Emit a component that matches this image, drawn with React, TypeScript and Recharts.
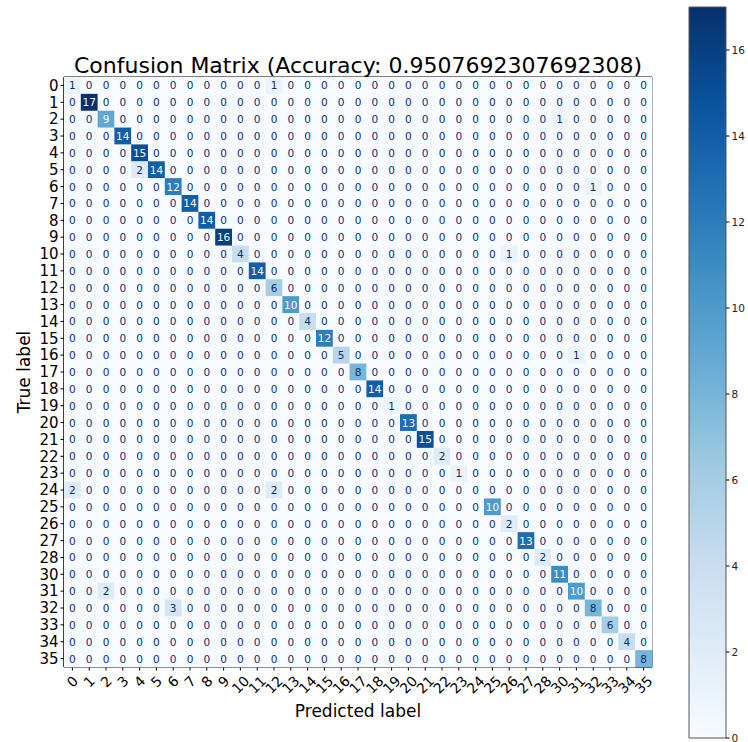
import { ScatterChart, Scatter, XAxis, YAxis, ReferenceArea, BarChart, Bar } from "recharts";

const LABELS = [
  "0", "1", "2", "3", "4", "5", "6", "7", "8", "9", "10", "11", "12", "13", "14", "15", "16", "17",
  "18", "19", "20", "21", "22", "23", "24", "25", "26", "27", "28", "30", "31", "32", "33", "34", "35",
];
// correct predictions, one per true label (same order as LABELS)
const DIAGONAL = [
  1, 17, 9, 14, 15, 14, 12, 14, 14, 16, 4, 14, 6, 10, 4, 12, 5, 8,
  14, 1, 13, 15, 2, 1, 0, 10, 2, 13, 2, 11, 10, 8, 6, 4, 8,
];
// mistakes: [true label, predicted label, count]
const MISSES: [string, string, number][] = [
  ["0", "12", 1],
  ["2", "30", 1],
  ["5", "4", 2],
  ["6", "32", 1],
  ["10", "26", 1],
  ["16", "31", 1],
  ["24", "0", 2],
  ["24", "12", 2],
  ["31", "2", 2],
  ["32", "6", 3],
];
const COLORBAR_TICKS = [0, 2, 4, 6, 8, 10, 12, 14, 16];
const ACCURACY = "0.9507692307692308";

// matplotlib "Blues"
const BLUES = ["#f7fbff", "#deebf7", "#c6dbef", "#9ecae1", "#6baed6", "#4292c6", "#2171b5", "#08519c", "#08306b"];

const FONT = "DejaVu Sans, sans-serif";
const N = LABELS.length;
const PLOT = { left: 64, top: 77, right: 652, bottom: 667 };
const CELL_W = (PLOT.right - PLOT.left) / N;
const CELL_H = (PLOT.bottom - PLOT.top) / N;

const cells = LABELS.flatMap((t, i) =>
  LABELS.map((p, j) => {
    const miss = MISSES.find((m) => m[0] === t && m[1] === p);
    return { x: j, y: i, value: i === j ? DIAGONAL[i] : miss ? miss[2] : 0 };
  })
);
const VMAX = Math.max(...cells.map((c) => c.value));

function hex(c: string) {
  return [1, 3, 5].map((k) => parseInt(c.slice(k, k + 2), 16));
}

function blues(t: number) {
  const s = Math.max(0, Math.min(1, t)) * (BLUES.length - 1);
  const i = Math.min(Math.floor(s), BLUES.length - 2);
  const f = s - i;
  const a = hex(BLUES[i]);
  const b = hex(BLUES[i + 1]);
  const rgb = a.map((v, k) => Math.round(v + (b[k] - v) * f));
  return `rgb(${rgb.join(",")})`;
}

function CellShape(props: any) {
  const { cx, cy, payload } = props;
  const v = payload.value;
  return (
    <g>
      <rect
        x={cx - CELL_W / 2}
        y={cy - CELL_H / 2}
        width={CELL_W + 0.4}
        height={CELL_H + 0.4}
        fill={blues(v / VMAX)}
      />
      <text
        x={cx}
        y={cy}
        textAnchor="middle"
        dominantBaseline="central"
        fontSize={10.5}
        fontFamily={FONT}
        fill={v > VMAX / 2 ? "#f7fbff" : "#08306b"}
      >
        {v}
      </text>
    </g>
  );
}

function XTick(props: any) {
  const { x, y, payload } = props;
  const label = LABELS[payload.value] ?? "";
  const fs = 14;
  const d = (label.length * 0.636 * fs + fs) / (2 * Math.SQRT2);
  return (
    <text
      transform={`translate(${x},${y + d + 1}) rotate(-45)`}
      textAnchor="middle"
      dominantBaseline="central"
      fontSize={fs}
      fontFamily={FONT}
      fill="#000"
    >
      {label}
    </text>
  );
}

const idxTicks = LABELS.map((_, i) => i);

export default function App() {
  return (
    <div style={{ position: "absolute", left: 0, top: 0, width: 748, height: 742, background: "#fff" }}>
      <div style={{ position: "absolute", left: 0, top: 0 }}>
        <ScatterChart
          width={680}
          height={742}
          margin={{ top: PLOT.top, left: PLOT.left - 44, right: 680 - PLOT.right, bottom: 742 - PLOT.bottom - 45 }}
        >
          <XAxis
            type="number"
            dataKey="x"
            domain={[-0.5, N - 0.5]}
            ticks={idxTicks}
            interval={0}
            height={45}
            tickSize={3.5}
            tickMargin={2}
            tick={<XTick />}
            axisLine={{ stroke: "#000" }}
            tickLine={{ stroke: "#000" }}
          />
          <YAxis
            type="number"
            dataKey="y"
            domain={[-0.5, N - 0.5]}
            reversed
            ticks={idxTicks}
            interval={0}
            width={44}
            tickSize={3.5}
            tickMargin={2}
            tickFormatter={(v: number) => LABELS[v] ?? ""}
            tick={{ fontSize: 15, fontFamily: FONT, fill: "#000" }}
            axisLine={{ stroke: "#000" }}
            tickLine={{ stroke: "#000" }}
          />
          <Scatter data={cells} shape={<CellShape />} isAnimationActive={false} />
          <ReferenceArea
            x1={-0.5}
            x2={N - 0.5}
            y1={-0.5}
            y2={N - 0.5}
            fill="none"
            stroke="#000"
            strokeWidth={1}
            ifOverflow="visible"
          />
        </ScatterChart>
      </div>

      <div style={{ position: "absolute", left: 680, top: 0 }}>
        <BarChart
          width={68}
          height={742}
          data={[{ name: "cb", v: VMAX }]}
          margin={{ top: 7, bottom: 4, left: 9, right: 0 }}
          barCategoryGap={0}
          style={{ overflow: "visible" }}
        >
          <defs>
            <linearGradient id="bluesGrad" x1="0" y1="1" x2="0" y2="0">
              {BLUES.map((c, i) => (
                <stop key={c} offset={i / (BLUES.length - 1)} stopColor={c} />
              ))}
            </linearGradient>
          </defs>
          <XAxis dataKey="name" hide height={0} />
          <YAxis
            orientation="right"
            domain={[0, VMAX]}
            ticks={COLORBAR_TICKS}
            interval={0}
            width={22}
            tickSize={3.5}
            tickMargin={2}
            axisLine={false}
            tickLine={{ stroke: "#000" }}
            tick={{ fontSize: 10.5, fontFamily: FONT, fill: "#222" }}
          />
          <Bar dataKey="v" fill="url(#bluesGrad)" stroke="#555" strokeWidth={1} isAnimationActive={false} />
        </BarChart>
      </div>

      <svg
        width={748}
        height={742}
        style={{ position: "absolute", left: 0, top: 0, pointerEvents: "none" }}
      >
        <text x={358} y={73} textAnchor="middle" fontSize={22} fontFamily={FONT} fill="#000">
          {`Confusion Matrix (Accuracy: ${ACCURACY})`}
        </text>
        <text x={358} y={717} textAnchor="middle" fontSize={17} fontFamily={FONT} fill="#000">
          Predicted label
        </text>
        <text
          transform="translate(30,372) rotate(-90)"
          textAnchor="middle"
          fontSize={17}
          fontFamily={FONT}
          fill="#000"
        >
          True label
        </text>
      </svg>
    </div>
  );
}
